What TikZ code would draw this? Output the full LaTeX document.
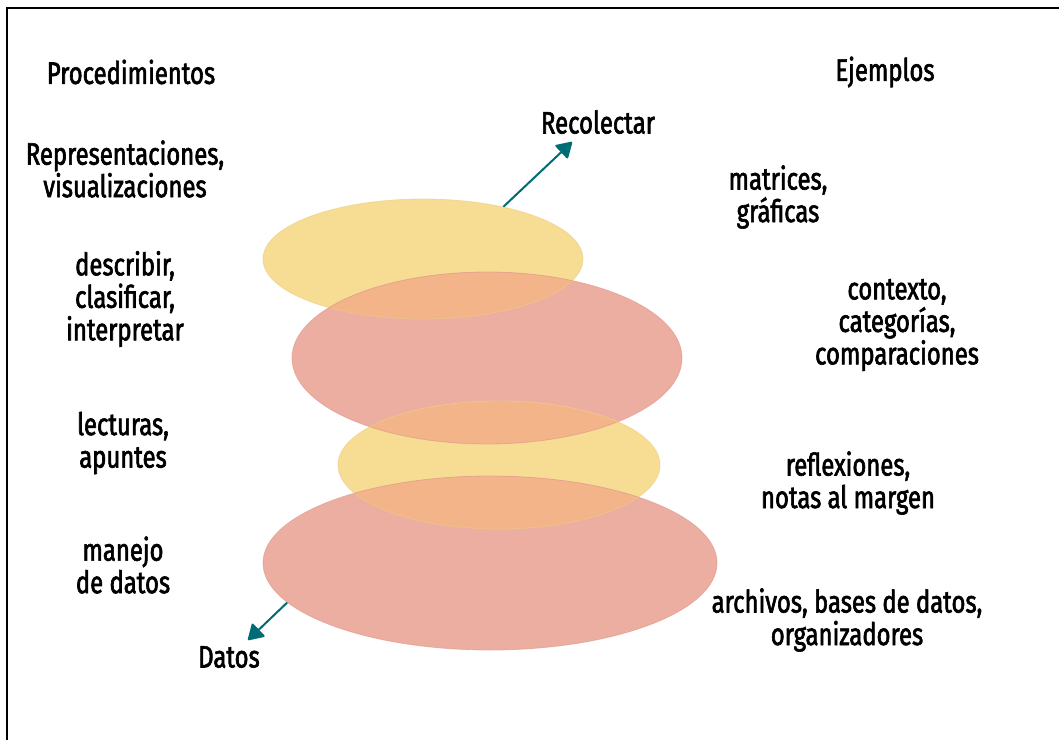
\documentclass[tikz,border=0pt]{standalone}
\usepackage{fontspec}
\setmainfont{Fira Sans}[FakeStretch=0.77, FakeBold=2]
\usetikzlibrary{shapes.geometric,arrows.meta}
\definecolor{ylw}{RGB}{247,221,148}
\definecolor{pnk}{RGB}{237,174,162}
\definecolor{org}{RGB}{243,180,138}
\definecolor{pnkedge}{RGB}{222,150,138}
\definecolor{ylwedge}{RGB}{236,205,130}
\definecolor{teal}{RGB}{0,108,118}
\tikzset{
  ell/.style={ellipse, inner sep=0pt},
  lbl/.style={align=center, font=\fontsize{31}{32.5}\selectfont, inner sep=0pt},
  arr/.style={draw=teal, line width=2pt, -{Triangle[width=19pt,length=16pt,round]}},
  frame/.style={line width=2pt, black}
}
\begin{document}
\begin{tikzpicture}[x=1pt,y=-1pt]
\useasboundingbox (0,0) rectangle (1059,740);
\fill[white] (0,0) rectangle (1059,740);
\draw[frame] (7,740) -- (7,8) -- (1059,8);

% arrows (behind ellipses)
\node[ell, minimum width=320pt, minimum height=120pt] (e1) at (423,259) {};
\node[ell, minimum width=454pt, minimum height=174pt] (e4) at (490,563) {};
\node[lbl] (rec) at (598,122) {Recolectar};
\node[lbl] (dat) at (229,657) {Datos};
\coordinate (rtip) at (572,142);
\coordinate (dtip) at (248,640);
\draw[arr] (e1.33) -- (rtip);
\draw[arr] (e4.191) -- (dtip);

% ellipses
\fill[ylw] (423,259) ellipse [x radius=160, y radius=60];
\node[ell, fill=pnk, minimum width=390pt, minimum height=172pt] (e2) at (487,358) {};
\node[ell, fill=ylw, minimum width=322pt, minimum height=128pt] (e3) at (499,465) {};
\fill[pnk] (490,563) ellipse [x radius=227, y radius=87];
% overlaps
\begin{scope}
\clip (423,259) ellipse [x radius=160, y radius=60];
\fill[org] (487,358) ellipse [x radius=195, y radius=86];
\end{scope}
\begin{scope}
\clip (487,358) ellipse [x radius=195, y radius=86];
\fill[org] (499,465) ellipse [x radius=161, y radius=64];
\end{scope}
\begin{scope}
\clip (499,465) ellipse [x radius=161, y radius=64];
\fill[org] (490,563) ellipse [x radius=227, y radius=87];
\end{scope}
% soft outlines
\draw[ylwedge, line width=0.8pt, opacity=0.6] (423,259) ellipse [x radius=160, y radius=60];
\draw[pnkedge, line width=0.8pt, opacity=0.6] (487,358) ellipse [x radius=195, y radius=86];
\draw[ylwedge, line width=0.8pt, opacity=0.6] (499,465) ellipse [x radius=161, y radius=64];
\draw[pnkedge, line width=0.8pt, opacity=0.6] (490,563) ellipse [x radius=227, y radius=87];

% headers
\node[lbl] (proc) at (131,72) {Procedimientos};
\node[lbl] (ejem) at (885,72) {Ejemplos};
% left column
\node[lbl] (p1) at (125,169) {Representaciones,\\visualizaciones};
\node[lbl] (p2) at (125,299) {describir,\\clasificar,\\interpretar};
\node[lbl] (p3) at (123,443) {lecturas,\\apuntes};
\node[lbl] (p4) at (123,565) {manejo\\de datos};
% right column
\node[lbl] (x1) at (778,197) {matrices,\\gráficas};
\node[lbl] (x2) at (897,325) {contexto,\\categorías,\\comparaciones};
\node[lbl] (x3) at (848,483) {reflexiones,\\notas al margen};
\node[lbl] (x4) at (847,620) {archivos, bases de datos,\\organizadores};
\end{tikzpicture}
\end{document}
